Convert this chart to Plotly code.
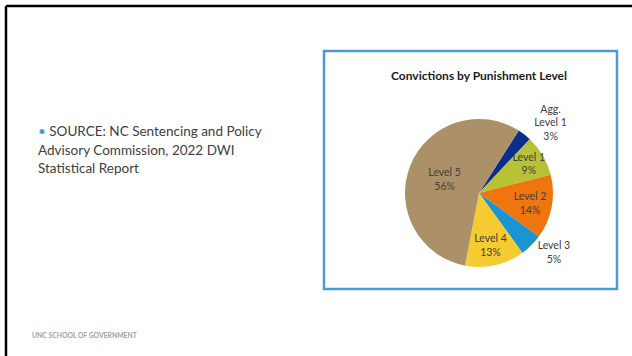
import plotly.graph_objects as go

# Punishment level shares of DWI convictions
levels = ["Agg.<br>Level 1", "Level 1", "Level 2", "Level 3", "Level 4", "Level 5"]
shares = [3, 9, 14, 5, 13, 56]
slice_colors = ["#0b2d8c", "#b7c334", "#ef760f", "#1c93d3", "#f5cb31", "#ac9068"]
label_positions = ["outside", "inside", "inside", "outside", "inside", "inside"]

source_lines = [
    "SOURCE: NC Sentencing and Policy",
    "Advisory Commission, 2022 DWI",
    "Statistical Report",
]
footer_text = "UNC SCHOOL OF GOVERNMENT"
chart_title = "Convictions by Punishment Level"

W, H = 632, 356


def px(x):
    return x / W


def py(y):
    return 1 - y / H


fig = go.Figure()

fig.add_trace(
    go.Pie(
        labels=levels,
        values=shares,
        sort=False,
        direction="clockwise",
        rotation=32.5,
        marker=dict(colors=slice_colors, line=dict(width=0)),
        texttemplate="%{label}<br>%{value}%",
        textposition=label_positions,
        insidetextorientation="horizontal",
        textfont=dict(family="Lato", size=10.5, color="#404040"),
        hoverinfo="label+value",
        showlegend=False,
        domain=dict(x=[px(405), px(553)], y=[py(268), py(118)]),
    )
)

shapes = [
    # slide frame
    dict(type="line", xref="paper", yref="paper", x0=px(6), x1=1.01, y0=py(6), y1=py(6),
         line=dict(color="#000000", width=2.5)),
    dict(type="line", xref="paper", yref="paper", x0=px(6), x1=px(6), y0=py(6), y1=-0.01,
         line=dict(color="#000000", width=2.5)),
    # chart box
    dict(type="rect", xref="paper", yref="paper", x0=px(324), x1=px(617), y0=py(289), y1=py(51),
         line=dict(color="#4a9bd6", width=2.5), layer="below"),
]

annotations = [
    dict(text="<b>" + chart_title + "</b>", x=px(479), y=py(76), xref="paper", yref="paper",
         showarrow=False, xanchor="center", yanchor="middle",
         font=dict(family="Lato", size=12, color="#1a1a1a")),
    dict(text="<span style='color:#4a9bd6'>•</span> " + source_lines[0], x=px(36), y=py(131),
         xref="paper", yref="paper", showarrow=False, xanchor="left", yanchor="middle",
         font=dict(family="Lato", size=13.5, color="#404040")),
    dict(text=source_lines[1], x=px(36), y=py(150), xref="paper", yref="paper",
         showarrow=False, xanchor="left", yanchor="middle",
         font=dict(family="Lato", size=13.5, color="#404040")),
    dict(text=source_lines[2], x=px(36), y=py(168), xref="paper", yref="paper",
         showarrow=False, xanchor="left", yanchor="middle",
         font=dict(family="Lato", size=13.5, color="#404040")),
    dict(text="<b>" + footer_text + "</b>", x=px(30), y=py(335), xref="paper", yref="paper",
         showarrow=False, xanchor="left", yanchor="middle",
         font=dict(family="Lato", size=6.8, color="#a0a0a0")),
]

fig.update_layout(
    width=W,
    height=H,
    margin=dict(l=0, r=0, t=0, b=0),
    paper_bgcolor="#ffffff",
    plot_bgcolor="#ffffff",
    shapes=shapes,
    annotations=annotations,
    uniformtext=dict(minsize=10.5, mode="show"),
)

fig.write_html("out.html", config={"displayModeBar": False})
